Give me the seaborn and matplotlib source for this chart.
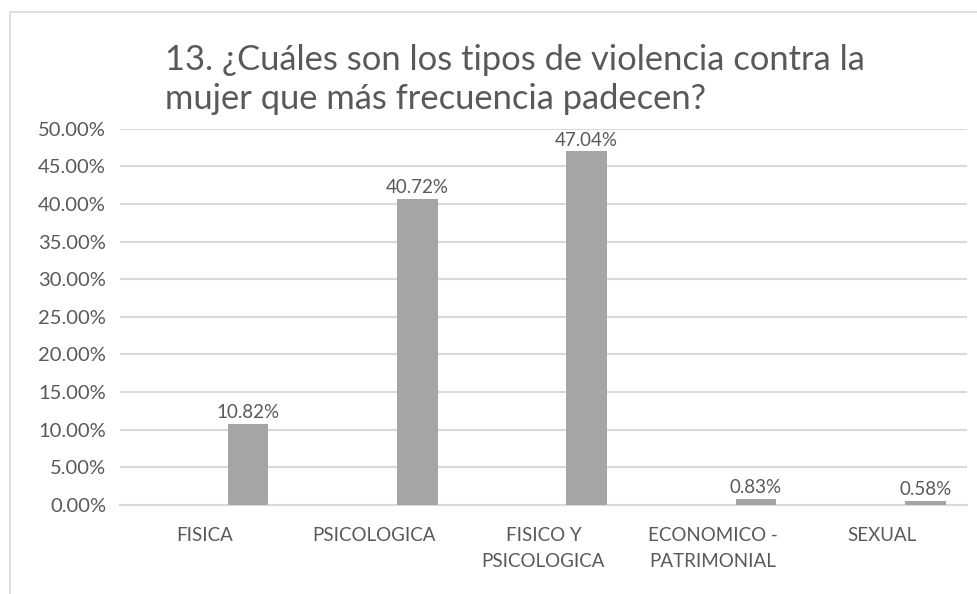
import matplotlib
matplotlib.use('Agg')
import matplotlib.pyplot as plt
import seaborn as sns
import pandas as pd
from matplotlib.patches import Rectangle

# data
categorias = ['FISICA', 'PSICOLOGICA', 'FISICO Y\nPSICOLOGICA', 'ECONOMICO -\nPATRIMONIAL', 'SEXUAL']
porcentajes = [0.1082, 0.4072, 0.4704, 0.0083, 0.0058]
etiquetas = ['10.82%', '40.72%', '47.04%', '0.83%', '0.58%']
titulo = '13. ¿Cuáles son los tipos de violencia contra la\nmujer que más frecuencia padecen?'

df = pd.DataFrame({'categoria': categorias, 'valor': porcentajes})

sns.set_style('white')
plt.rcParams['font.family'] = ['Lato', 'DejaVu Sans']

gris_texto = '#595959'
gris_barra = '#A5A5A5'
gris_linea = '#D9D9D9'

fig = plt.figure(figsize=(9.78, 5.94), dpi=100)
ax = fig.add_axes([0.1227, 0.15, 0.866, 0.633])

sns.barplot(data=df, x='categoria', y='valor', color=gris_barra, width=0.24,
            saturation=1, ax=ax, zorder=3)

# bars sit right of the category centre, as in the original
for p in ax.patches:
    p.set_x(p.get_x() + 0.255)
    p.set_edgecolor('none')

for p, txt in zip(ax.patches, etiquetas):
    ax.text(p.get_x() + p.get_width() / 2, p.get_height() + 0.003, txt,
            ha='center', va='bottom', fontsize=13.5, color=gris_texto)

ax.set_ylim(0, 0.5)
ax.set_xlim(-0.5, len(categorias) - 0.5)
ax.set_yticks([i * 0.05 for i in range(11)])
ax.set_yticklabels([f'{i * 5:.2f}%' for i in range(11)])
ax.yaxis.grid(True, color=gris_linea, linewidth=1.5, zorder=0)
ax.xaxis.grid(False)
for s in ax.spines.values():
    s.set_visible(False)
ax.spines['bottom'].set_visible(True)
ax.spines['bottom'].set_color(gris_linea)
ax.spines['bottom'].set_linewidth(1.5)

ax.tick_params(axis='y', length=0, labelsize=14.5, labelcolor=gris_texto, pad=10)
ax.tick_params(axis='x', length=0, labelsize=13.5, labelcolor=gris_texto, pad=16)
for t in ax.get_xticklabels():
    t.set_linespacing(1.6)
ax.set_xlabel('')
ax.set_ylabel('')

fig.text(165 / 978, 1 - 44 / 594, titulo, fontsize=24.8, color=gris_texto,
         ha='left', va='top', linespacing=1.28)

# thin frame of the chart area
fig.patches.append(Rectangle((10 / 978, -0.1), 1.2, 1 - 12 / 594 + 0.1,
                             transform=fig.transFigure, fill=False,
                             edgecolor=gris_linea, linewidth=1.2))

fig.savefig('out.png', dpi=100)
